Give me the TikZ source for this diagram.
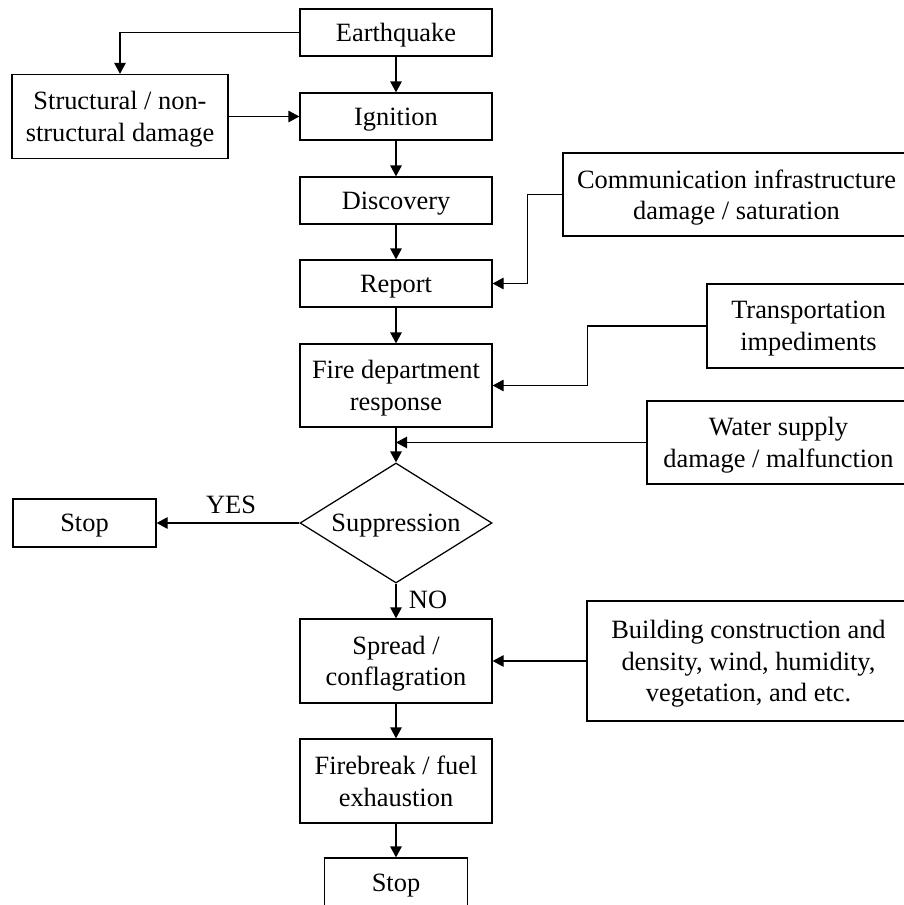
\documentclass[tikz,border=0pt]{standalone}
\usepackage{fontspec}
\setmainfont{Liberation Serif}
\usetikzlibrary{arrows.meta,shapes.geometric}
\begin{document}
\begin{tikzpicture}[x=1pt,y=-1pt,
  every node/.style={font=\fontsize{26.4}{31.5}\selectfont},
  box/.style={draw, line width=1.25pt, inner sep=0pt, align=center, anchor=center, text depth=0pt},
  dia/.style={draw, line width=1.25pt, diamond, inner sep=0pt, aspect=1.6, align=center, text depth=0pt},
  arr/.style={line width=1.25pt, -{Triangle[length=11pt,width=11.5pt]}},
  lbl/.style={inner sep=0pt}]
\useasboundingbox (0,0) rectangle (904,905);
\clip (0,0) rectangle (904,905);
\node[box, minimum width=192pt, minimum height=47pt] (eq) at (396,32.5) {Earthquake};
\node[box, minimum width=192pt, minimum height=47pt] (ig) at (396,116.5) {Ignition};
\node[box, minimum width=192pt, minimum height=47pt] (dc) at (396,200.5) {Discovery};
\node[box, minimum width=192pt, minimum height=47pt] (rp) at (396,283.5) {Report};
\node[box, minimum width=192pt, minimum height=83pt] (fd) at (396,385.5) {Fire department\\response};
\node[dia, minimum width=192pt, minimum height=120pt] (sp) at (396,523) {Suppression};
\node[box, minimum width=192pt, minimum height=84pt] (sc) at (396,661) {Spread /\\conflagration};
\node[box, minimum width=192pt, minimum height=84pt] (fb) at (396,781) {Firebreak / fuel\\exhaustion};
\node[box, minimum width=143pt, minimum height=50pt] (st2) at (396,883) {Stop};
\node[box, minimum width=143pt, minimum height=48pt] (st1) at (84.5,523) {Stop};
\node[box, minimum width=216pt, minimum height=84pt] (sd) at (120,116.5) {Structural / non-\\structural damage};
\node[box, minimum width=347pt, minimum height=83pt] (cm) at (736.5,194.5) {Communication infrastructure\\damage / saturation};
\node[box, minimum width=203pt, minimum height=84pt] (tr) at (808.5,326) {Transportation\\impediments};
\node[box, minimum width=263pt, minimum height=83pt] (ws) at (778.5,442.5) {Water supply\\damage / malfunction};
\node[box, minimum width=323pt, minimum height=120pt] (bc) at (748.5,661) {Building construction and\\density, wind, humidity,\\vegetation, and etc.};
\draw[arr] (eq.west) -| (sd.north);
\draw[arr] (eq.south) -- (ig.north);
\draw[arr] (sd.east) -- (ig.west);
\draw[arr] (ig.south) -- (dc.north);
\draw[arr] (dc.south) -- (rp.north);
\draw[arr] (rp.south) -- (fd.north);
\draw[arr] (cm.west) -- ++(-35,0) |- (rp.east);
\draw[arr] (tr.west) -- ++(-119,0) |- (fd.east);
\draw[arr] (fd.south) -- (sp.north);
\coordinate (wj) at (fd.south |- ws.west);
\draw[arr] (ws.west) -- (wj);
\draw[arr] (sp.west) -- (st1.east);
\node[lbl] (yes) at (231,505) {YES};
\draw[arr] (sp.south) -- (sc.north);
\node[lbl] (no) at (428,600) {NO};
\draw[arr] (bc.west) -- (sc.east);
\draw[arr] (sc.south) -- (fb.north);
\draw[arr] (fb.south) -- (st2.north);
\end{tikzpicture}
\end{document}
